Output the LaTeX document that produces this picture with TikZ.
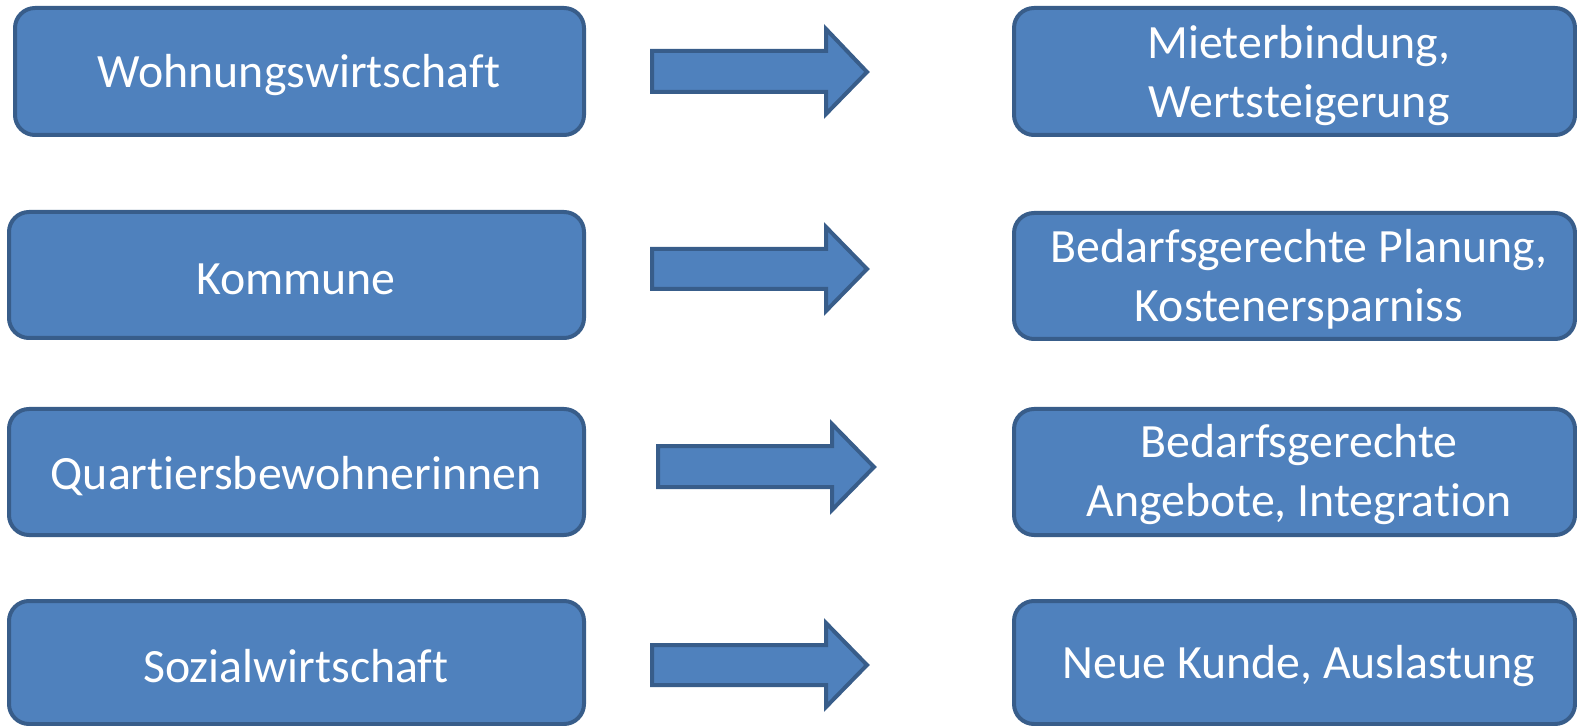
\documentclass[tikz,border=0pt]{standalone}
\usepackage{fontspec}
\setmainfont{Carlito}[Ligatures={NoCommon,NoRare,NoContextual}]
\definecolor{boxfill}{HTML}{4F81BD}
\definecolor{boxline}{HTML}{385D8A}
\tikzset{
  blk/.style={draw=boxline, fill=boxfill, line width=2pt, rounded corners=10pt},
  lbl/.style={text=white, align=center, font=\fontsize{23.9pt}{29.5pt}\selectfont, inner sep=0pt},
  bigarrow/.style={draw=boxline, fill=boxfill, line width=2pt, line join=miter}
}
\begin{document}
\begin{tikzpicture}[x=0.5pt,y=-0.5pt]
\useasboundingbox (0,0) rectangle (1577,726);
% left boxes
\draw[blk] (15,8) rectangle (584,135);
\node[lbl] (l1) at (299,75) {Wohnungswirtschaft};
\draw[blk] (9,212) rectangle (584,338);
\node[lbl] (l2) at (296,279) {Kommune};
\draw[blk] (9,409) rectangle (584,535);
\node[lbl] (l3) at (296,476) {Quartiersbewohnerinnen};
\draw[blk] (9,601) rectangle (584,724);
\node[lbl] (l4) at (296,666) {Sozialwirtschaft};
% right boxes
\draw[blk] (1014,8) rectangle (1575,135);
\node[lbl] (r1) at (1299,76) {Mieterbindung,\\Wertsteigerung};
\draw[blk] (1014,213) rectangle (1575,339);
\node[lbl] (r2) at (1299,279) {Bedarfsgerechte Planung,\\Kostenersparniss};
\draw[blk] (1014,409) rectangle (1575,535);
\node[lbl] (r3) at (1299,475) {Bedarfsgerechte\\Angebote, Integration};
\draw[blk] (1014,601) rectangle (1575,724);
\node[lbl] (r4) at (1299,666) {Neue Kunde, Auslastung};
% arrows
\draw[bigarrow] (652,51) -- (826,51) -- (826,29) -- (867,72) -- (826,114) -- (826,92) -- (652,92) -- cycle;
\draw[bigarrow] (652,249) -- (826,249) -- (826,227) -- (867,269) -- (826,311) -- (826,289) -- (652,289) -- cycle;
\draw[bigarrow] (658,446) -- (832,446) -- (832,424) -- (874,467) -- (832,510) -- (832,487) -- (658,487) -- cycle;
\draw[bigarrow] (652,645) -- (826,645) -- (826,623) -- (867,665) -- (826,707) -- (826,685) -- (652,685) -- cycle;
\end{tikzpicture}
\end{document}
